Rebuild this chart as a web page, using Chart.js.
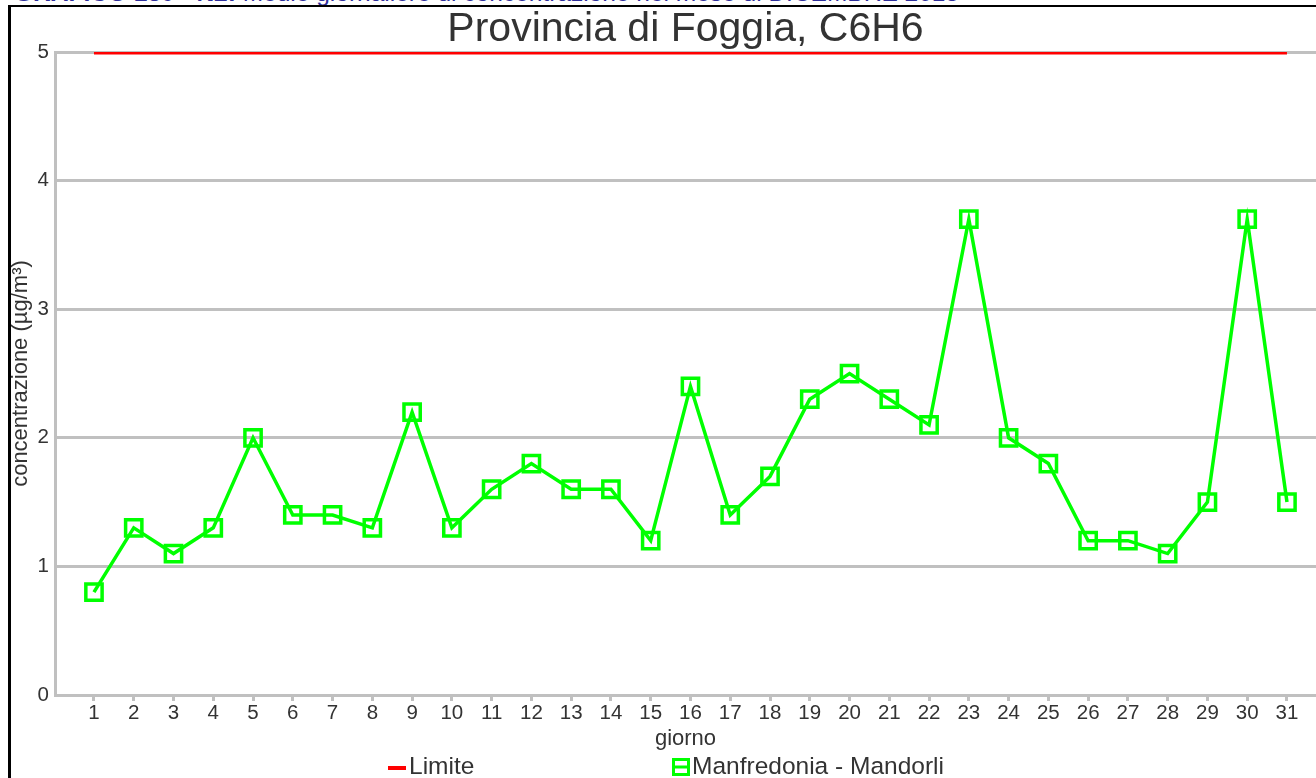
<!DOCTYPE html>
<html>
<head>
<meta charset="utf-8">
<script src="https://cdn.jsdelivr.net/npm/chart.js@4/dist/chart.umd.min.js"></script>
<style>
  html, body { margin: 0; padding: 0; background: #fff; overflow: hidden; width: 1316px; height: 778px; }
  #caption { position: absolute; left: 14px; top: -18.5px; font: 24.5px "Liberation Sans", Arial, sans-serif; line-height: 22px; color: #2e2e9a; white-space: nowrap; }
  #caption b { font-weight: bold; }
  #frame { position: absolute; left: 8px; top: 5px; width: 1400px; height: 900px; border-top: 2px solid #000; border-left: 3px solid #000; }
  #wrap { position: absolute; left: 0; top: 0; width: 1316px; height: 778px; }
</style>
</head>
<body>
<div id="caption"><b>GRAFICO 130 - N2:</b> Medie giornaliere di concentrazione nel mese di DICEMBRE 2015</div>
<div id="frame"></div>
<div id="wrap"><canvas id="c"></canvas></div>
<script>
// ---- data ----
const days = [1,2,3,4,5,6,7,8,9,10,11,12,13,14,15,16,17,18,19,20,21,22,23,24,25,26,27,28,29,30,31];
const manfredoniaValues = [0.8,1.3,1.1,1.3,2.0,1.4,1.4,1.3,2.2,1.3,1.6,1.8,1.6,1.6,1.2,2.4,1.4,1.7,2.3,2.5,2.3,2.1,3.7,2.0,1.8,1.2,1.2,1.1,1.5,3.7,1.5];
const limitValues = [5,5,5,5,5,5,5,5,5,5,5,5,5,5,5,5,5,5,5,5,5,5,5,5,5,5,5,5,5,5,5];
const yTicks = [0,1,2,3,4,5];
const seriesNames = ['Limite', 'Manfredonia - Mandorli'];
const chartTitle = 'Provincia di Foggia, C6H6';
const xTitle = 'giorno';
const yTitle = 'concentrazione (µg/m³)';

const FONT = '"Liberation Sans", Arial, sans-serif';
const GRID = '#c0c0c0';
const TXT = '#333333';
const GREEN = '#00ff00';
const RED = '#ff0000';

const legendPlugin = {
  id: 'customLegend',
  afterDraw(chart) {
    const ctx = chart.ctx;
    ctx.save();
    ctx.font = '24.5px ' + FONT;
    ctx.fillStyle = TXT;
    ctx.textBaseline = 'middle';
    ctx.textAlign = 'left';
    const y = 767;
    // Limite
    ctx.strokeStyle = RED; ctx.lineWidth = 4;
    ctx.beginPath(); ctx.moveTo(388, y + 1); ctx.lineTo(406, y + 1); ctx.stroke();
    ctx.fillText(seriesNames[0], 409, y);
    // Manfredonia
    ctx.strokeStyle = GREEN; ctx.lineWidth = 3;
    ctx.strokeRect(673.5, y - 7.5, 15, 15);
    ctx.beginPath(); ctx.moveTo(672, y); ctx.lineTo(690, y); ctx.stroke();
    ctx.fillText(seriesNames[1], 692, y);
    ctx.restore();
  }
};

new Chart(document.getElementById('c'), {
  type: 'line',
  data: {
    datasets: [
      {
        label: seriesNames[0],
        data: days.map((d, i) => ({ x: d, y: limitValues[i] })),
        borderColor: RED,
        borderWidth: 5,
        pointRadius: 0,
        fill: false,
        order: 2
      },
      {
        label: seriesNames[1],
        data: days.map((d, i) => ({ x: d, y: manfredoniaValues[i] })),
        borderColor: GREEN,
        borderWidth: 3.5,
        pointStyle: 'rect',
        pointRadius: 11.5,
        pointBorderWidth: 3.5,
        pointBorderColor: GREEN,
        pointBackgroundColor: 'rgba(0,0,0,0)',
        fill: false,
        tension: 0,
        order: 1
      }
    ]
  },
  options: {
    responsive: true,
    maintainAspectRatio: false,
    animation: false,
    layout: { autoPadding: false, padding: { left: 0, right: 0, top: 0, bottom: 28 } },
    plugins: {
      legend: { display: false },
      tooltip: { enabled: false },
      title: {
        display: true,
        text: chartTitle,
        fullSize: false,
        color: TXT,
        font: { family: FONT, size: 41, weight: 'normal', lineHeight: 1.05 },
        padding: { top: 8, bottom: 1 }
      }
    },
    scales: {
      x: {
        type: 'linear',
        min: 0.02,
        max: 31.73,
        afterBuildTicks(scale) { scale.ticks = days.map(v => ({ value: v })); },
        afterFit(scale) { scale.height = 55; scale.paddingLeft = 0; scale.paddingRight = 0; },
        ticks: {
          color: TXT,
          font: { family: FONT, size: 20.5 },
          padding: 0,
          maxRotation: 0,
          autoSkip: false
        },
        grid: {
          drawOnChartArea: false,
          drawTicks: true,
          tickLength: 6,
          tickWidth: 3,
          color: GRID,
          lineWidth: 3
        },
        border: { display: true, color: GRID, width: 3 },
        title: {
          display: true,
          text: xTitle,
          color: TXT,
          font: { family: FONT, size: 22, lineHeight: 1 },
          padding: { top: 0, bottom: 0 }
        }
      },
      y: {
        type: 'linear',
        min: 0,
        max: 5,
        afterBuildTicks(scale) { scale.ticks = yTicks.map(v => ({ value: v })); },
        afterFit(scale) { scale.width = 55; },
        ticks: {
          color: TXT,
          font: { family: FONT, size: 20.5 },
          padding: 6
        },
        grid: {
          drawTicks: false,
          color: GRID,
          lineWidth: 3
        },
        border: { display: true, color: GRID, width: 3 },
        title: {
          display: true,
          text: yTitle,
          color: TXT,
          font: { family: FONT, size: 22, lineHeight: 1.2 },
          padding: { top: 8, bottom: 0 }
        }
      }
    }
  },
  plugins: [legendPlugin]
});
</script>
</body>
</html>
